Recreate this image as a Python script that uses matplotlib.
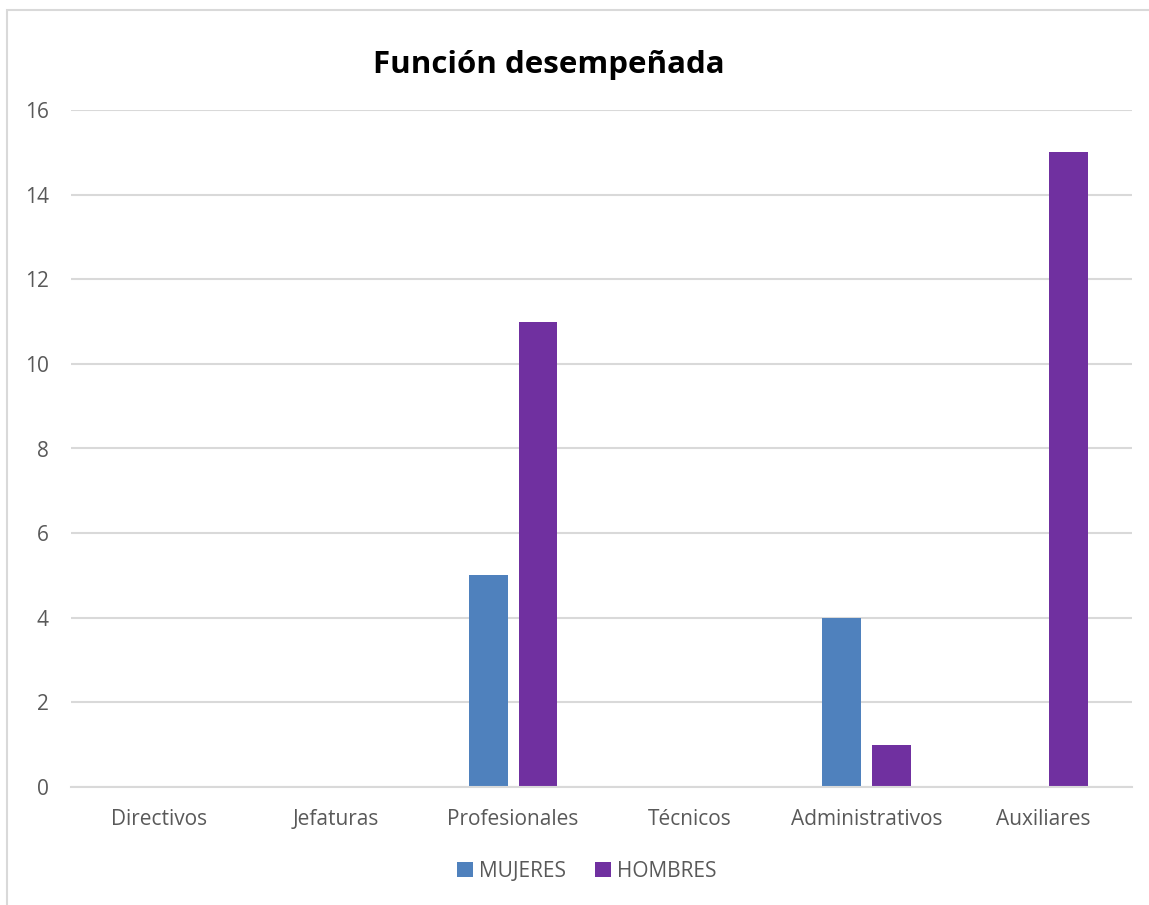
"""Función desempeñada - barras agrupadas"""
import matplotlib.pyplot as plt
import numpy as np
from matplotlib.patches import Rectangle

plt.rcParams['font.family'] = ['Open Sans', 'DejaVu Sans']

categorias = ['Directivos', 'Jefaturas', 'Profesionales', 'Técnicos',
              'Administrativos', 'Auxiliares']
mujeres = [0, 0, 5, 0, 4, 0]
hombres = [0, 0, 11, 0, 1, 15]
yticks = [0, 2, 4, 6, 8, 10, 12, 14, 16]

W, H = 1149, 905
fig = plt.figure(figsize=(W / 100, H / 100), dpi=100)

# marco del grafico (sale por la derecha y por abajo)
fig.patches.append(Rectangle((7 / W, -0.2), 1.5, 1.2 - 10 / H, transform=fig.transFigure,
                             fill=False, edgecolor='#D9D9D9', linewidth=1.5))

ax = fig.add_axes([71 / W, 1 - 787 / H, (1132 - 71) / W, (787 - 110) / H])

x = np.arange(len(categorias))
ancho = 0.22
desp = 0.141
ax.bar(x - desp, mujeres, ancho, color='#4F81BD', label='MUJERES')
ax.bar(x + desp, hombres, ancho, color='#7030A0', label='HOMBRES')

ax.set_xlim(-0.5, len(categorias) - 0.5)
ax.set_ylim(0, 16)
ax.set_yticks(yticks)
ax.set_xticks(x)
ax.set_xticklabels(categorias)
ax.yaxis.grid(True, color='#D9D9D9', linewidth=1.5)
ax.set_axisbelow(True)
for s in ['top', 'right', 'left']:
    ax.spines[s].set_visible(False)
ax.spines['bottom'].set_color('#D9D9D9')
ax.spines['bottom'].set_linewidth(1.5)
ax.tick_params(length=0, labelsize=15, colors='#595959')
ax.tick_params(axis='x', pad=16)
ax.tick_params(axis='y', pad=16)

fig.text(549 / W, 1 - 65 / H, 'Función desempeñada', ha='center', va='center',
         fontsize=22.5, fontweight='bold', color='black')

ax.legend(loc='center', bbox_to_anchor=(587 / W, 1 - 871 / H),
          bbox_transform=fig.transFigure, ncol=2, frameon=False,
          fontsize=15, labelcolor='#595959', handlelength=0.75, handleheight=0.75,
          handletextpad=0.3, columnspacing=1.4)

fig.savefig('out.png', dpi=100)
